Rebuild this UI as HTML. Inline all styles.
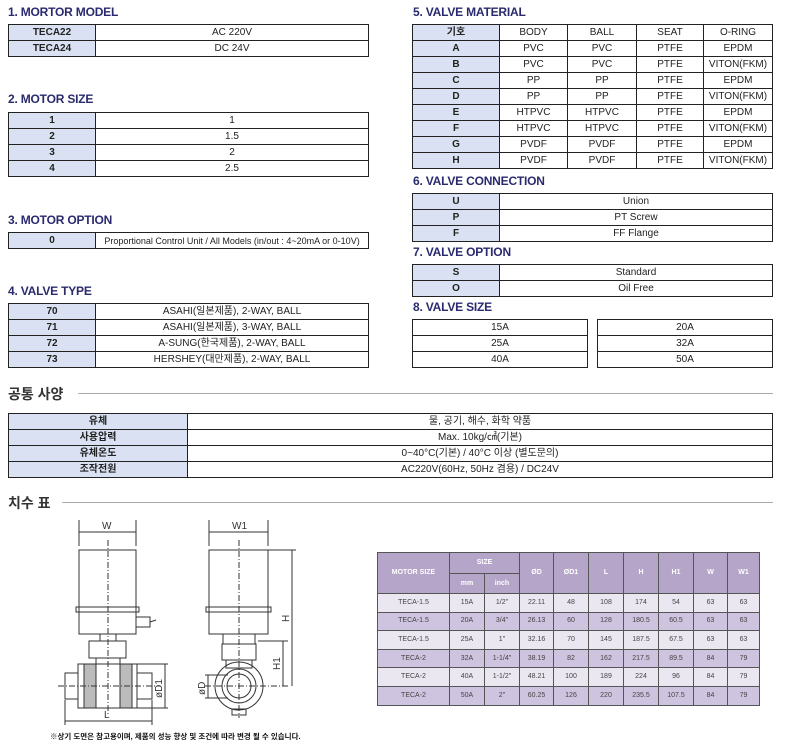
<!DOCTYPE html>
<html><head><meta charset="utf-8"><style>
*{margin:0;padding:0;box-sizing:border-box}
body{width:786px;height:746px;background:#fff;position:relative;overflow:hidden;font-family:"Liberation Sans","Noto Sans CJK KR",sans-serif;color:#222}
.h{position:absolute;font-weight:bold;font-size:12px;color:#2a2a6e;letter-spacing:-0.2px}
table{position:absolute;border-collapse:collapse;font-size:10px;table-layout:fixed}
td{border:1px solid #222;text-align:center;height:16px;padding:0;line-height:14px;white-space:nowrap;overflow:hidden}
td.k{background:#d9e1f2;font-weight:bold}
.s{position:absolute;font-size:14px;font-weight:bold;color:#333}
.ln{position:absolute;height:1px;background:#aaa}
table.d{font-size:7px;color:#444;border:1.5px solid #333}
table.d td{border:1px solid #555;height:18.6px;line-height:16px}
table.d tr.hd td{background:#b4a5c9;color:#fff;font-weight:bold}
table.d tr.a td{background:#ebe7f1}
table.d tr.b td{background:#cfc4df}
</style></head><body>

<div class="h" style="left:8px;top:5px">1. MORTOR MODEL</div>
<table style="left:8px;top:24px;width:361px"><col style="width:87px"><col>
<tr><td class="k">TECA22</td><td>AC 220V</td></tr>
<tr><td class="k">TECA24</td><td>DC 24V</td></tr></table>

<div class="h" style="left:8px;top:92px">2. MOTOR SIZE</div>
<table style="left:8px;top:112px;width:361px"><col style="width:87px"><col>
<tr><td class="k">1</td><td>1</td></tr><tr><td class="k">2</td><td>1.5</td></tr>
<tr><td class="k">3</td><td>2</td></tr><tr><td class="k">4</td><td>2.5</td></tr></table>

<div class="h" style="left:8px;top:213px">3. MOTOR OPTION</div>
<table style="left:8px;top:232px;width:361px"><col style="width:87px"><col>
<tr><td class="k">0</td><td style="font-size:9px">Proportional Control Unit / All Models (in/out : 4~20mA or 0-10V)</td></tr></table>

<div class="h" style="left:8px;top:284px">4. VALVE TYPE</div>
<table style="left:8px;top:303px;width:361px"><col style="width:87px"><col>
<tr><td class="k">70</td><td>ASAHI(일본제품), 2-WAY, BALL</td></tr>
<tr><td class="k">71</td><td>ASAHI(일본제품), 3-WAY, BALL</td></tr>
<tr><td class="k">72</td><td>A-SUNG(한국제품), 2-WAY, BALL</td></tr>
<tr><td class="k">73</td><td>HERSHEY(대만제품), 2-WAY, BALL</td></tr></table>

<div class="h" style="left:413px;top:5px">5. VALVE MATERIAL</div>
<table style="left:412px;top:24px;width:361px"><col style="width:87px"><col style="width:68px"><col style="width:69px"><col style="width:67px"><col>
<tr><td class="k">기호</td><td>BODY</td><td>BALL</td><td>SEAT</td><td>O-RING</td></tr>
<tr><td class="k">A</td><td>PVC</td><td>PVC</td><td>PTFE</td><td>EPDM</td></tr>
<tr><td class="k">B</td><td>PVC</td><td>PVC</td><td>PTFE</td><td>VITON(FKM)</td></tr>
<tr><td class="k">C</td><td>PP</td><td>PP</td><td>PTFE</td><td>EPDM</td></tr>
<tr><td class="k">D</td><td>PP</td><td>PP</td><td>PTFE</td><td>VITON(FKM)</td></tr>
<tr><td class="k">E</td><td>HTPVC</td><td>HTPVC</td><td>PTFE</td><td>EPDM</td></tr>
<tr><td class="k">F</td><td>HTPVC</td><td>HTPVC</td><td>PTFE</td><td>VITON(FKM)</td></tr>
<tr><td class="k">G</td><td>PVDF</td><td>PVDF</td><td>PTFE</td><td>EPDM</td></tr>
<tr><td class="k">H</td><td>PVDF</td><td>PVDF</td><td>PTFE</td><td>VITON(FKM)</td></tr></table>

<div class="h" style="left:413px;top:174px">6. VALVE CONNECTION</div>
<table style="left:412px;top:193px;width:361px"><col style="width:87px"><col>
<tr><td class="k">U</td><td>Union</td></tr><tr><td class="k">P</td><td>PT Screw</td></tr><tr><td class="k">F</td><td>FF Flange</td></tr></table>

<div class="h" style="left:413px;top:245px">7. VALVE OPTION</div>
<table style="left:412px;top:264px;width:361px"><col style="width:87px"><col>
<tr><td class="k">S</td><td>Standard</td></tr><tr><td class="k">O</td><td>Oil Free</td></tr></table>

<div class="h" style="left:413px;top:300px">8. VALVE SIZE</div>
<table style="left:412px;top:319px;width:176px"><tr><td>15A</td></tr><tr><td>25A</td></tr><tr><td>40A</td></tr></table>
<table style="left:597px;top:319px;width:176px"><tr><td>20A</td></tr><tr><td>32A</td></tr><tr><td>50A</td></tr></table>

<div class="s" style="left:8px;top:384px">공통 사양</div>
<div class="ln" style="left:78px;top:393px;width:695px"></div>
<table style="left:8px;top:413px;width:765px"><col style="width:179px"><col>
<tr><td class="k">유체</td><td>물, 공기, 해수, 화학 약품</td></tr>
<tr><td class="k">사용압력</td><td>Max. 10kg/㎠(기본)</td></tr>
<tr><td class="k">유체온도</td><td>0~40°C(기본) / 40°C 이상 (별도문의)</td></tr>
<tr><td class="k">조작전원</td><td>AC220V(60Hz, 50Hz 겸용) / DC24V</td></tr></table>

<div class="s" style="left:8px;top:493px">치수 표</div>
<div class="ln" style="left:62px;top:502px;width:711px"></div>

<table class="d" style="left:377px;top:552px;width:383px">
<col style="width:72px"><col style="width:35px"><col style="width:35px"><col style="width:34px"><col style="width:35px"><col style="width:35px"><col style="width:35px"><col style="width:35px"><col style="width:34px"><col>
<tr class="hd"><td rowspan="2">MOTOR SIZE</td><td colspan="2" style="height:21px">SIZE</td><td rowspan="2">ØD</td><td rowspan="2">ØD1</td><td rowspan="2">L</td><td rowspan="2">H</td><td rowspan="2">H1</td><td rowspan="2">W</td><td rowspan="2">W1</td></tr>
<tr class="hd"><td style="height:20px">mm</td><td>inch</td></tr>
<tr class="a"><td>TECA-1.5</td><td>15A</td><td>1/2"</td><td>22.11</td><td>48</td><td>108</td><td>174</td><td>54</td><td>63</td><td>63</td></tr>
<tr class="b"><td>TECA-1.5</td><td>20A</td><td>3/4"</td><td>26.13</td><td>60</td><td>128</td><td>180.5</td><td>60.5</td><td>63</td><td>63</td></tr>
<tr class="a"><td>TECA-1.5</td><td>25A</td><td>1"</td><td>32.16</td><td>70</td><td>145</td><td>187.5</td><td>67.5</td><td>63</td><td>63</td></tr>
<tr class="b"><td>TECA-2</td><td>32A</td><td>1-1/4"</td><td>38.19</td><td>82</td><td>162</td><td>217.5</td><td>89.5</td><td>84</td><td>79</td></tr>
<tr class="a"><td>TECA-2</td><td>40A</td><td>1-1/2"</td><td>48.21</td><td>100</td><td>189</td><td>224</td><td>96</td><td>84</td><td>79</td></tr>
<tr class="b"><td>TECA-2</td><td>50A</td><td>2"</td><td>60.25</td><td>126</td><td>220</td><td>235.5</td><td>107.5</td><td>84</td><td>79</td></tr>
</table>

<svg style="position:absolute;left:0;top:510px" width="310" height="236" viewBox="0 0 310 236" fill="none" stroke="#333" stroke-width="1" font-family="Liberation Sans" font-size="10">
<line x1="79" y1="10" x2="79" y2="36"/><line x1="136" y1="10" x2="136" y2="36"/>
<line x1="79" y1="22" x2="136" y2="22"/><text x="102" y="19" fill="#333" stroke="none">W</text>
<rect x="79" y="40" width="57" height="84" fill="#fff"/>
<rect x="76" y="97" width="63" height="5"/>
<rect x="136" y="107" width="14" height="10"/><line x1="150" y1="112" x2="156" y2="110"/>
<rect x="100" y="124" width="16" height="7"/>
<rect x="89" y="131" width="37" height="17"/>
<rect x="96" y="148" width="24" height="6"/>
<rect x="78" y="154" width="59" height="44"/>
<rect x="84" y="154" width="12" height="44" fill="#bbb"/><rect x="120" y="154" width="12" height="44" fill="#bbb"/>
<rect x="65" y="163" width="13" height="26"/><rect x="137" y="163" width="15" height="26"/>
<line x1="108" y1="30" x2="108" y2="204" stroke-dasharray="6,2,1,2"/>
<line x1="58" y1="176" x2="160" y2="176" stroke-dasharray="6,2,1,2"/>
<line x1="137" y1="154" x2="168" y2="154"/><line x1="137" y1="198" x2="168" y2="198"/>
<line x1="165" y1="154" x2="165" y2="198"/><text x="0" y="0" transform="translate(162,188) rotate(-90)" fill="#333" stroke="none">øD1</text>
<line x1="65" y1="190" x2="65" y2="215"/><line x1="152" y1="190" x2="152" y2="215"/>
<line x1="65" y1="211" x2="152" y2="211"/><text x="104" y="208" fill="#333" stroke="none">L</text>
<line x1="209" y1="10" x2="209" y2="36"/><line x1="268" y1="10" x2="268" y2="36"/>
<line x1="209" y1="22" x2="268" y2="22"/><text x="232" y="19" fill="#333" stroke="none">W1</text>
<rect x="209" y="40" width="59" height="84" fill="#fff"/>
<rect x="206" y="97" width="65" height="5"/>
<rect x="223" y="124" width="32" height="10"/>
<rect x="222" y="134" width="34" height="16"/>
<rect x="226" y="150" width="26" height="8"/>
<circle cx="239" cy="176" r="24"/><circle cx="239" cy="176" r="17"/><circle cx="239" cy="176" r="12"/>
<rect x="232" y="199" width="14" height="6"/>
<line x1="239" y1="30" x2="239" y2="208" stroke-dasharray="6,2,1,2"/>
<line x1="205" y1="176" x2="290" y2="176" stroke-dasharray="6,2,1,2"/>
<line x1="268" y1="40" x2="296" y2="40"/><line x1="292" y1="40" x2="292" y2="176"/>
<text x="0" y="0" transform="translate(289,112) rotate(-90)" fill="#333" stroke="none">H</text>
<line x1="258" y1="131" x2="288" y2="131"/><line x1="283" y1="131" x2="283" y2="176"/>
<text x="0" y="0" transform="translate(280,160) rotate(-90)" fill="#333" stroke="none">H1</text>
<line x1="205" y1="165" x2="228" y2="165"/><line x1="205" y1="188" x2="228" y2="188"/>
<line x1="208" y1="165" x2="208" y2="188"/><text x="0" y="0" transform="translate(205,185) rotate(-90)" fill="#333" stroke="none">øD</text>
<text x="50" y="229" fill="#111" stroke="none" font-size="7.5" font-weight="bold" font-family="Liberation Sans, Noto Sans CJK KR, sans-serif">※상기 도면은 참고용이며, 제품의 성능 향상 및 조건에 따라 변경 될 수 있습니다.</text>
</svg>
</body></html>
